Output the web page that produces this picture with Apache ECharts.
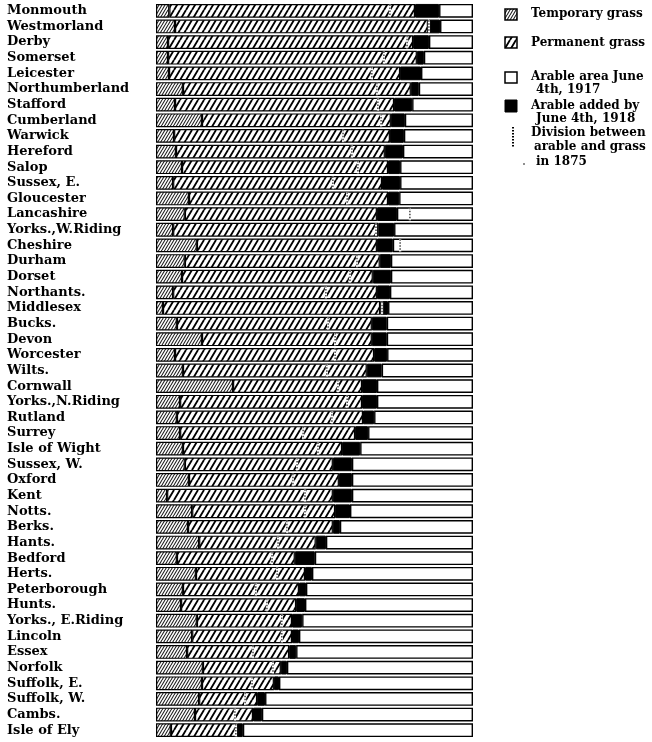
<!DOCTYPE html>
<html>
<head>
<meta charset="utf-8">
<script src="https://cdn.jsdelivr.net/npm/echarts@6/dist/echarts.min.js"></script>
<style>
html,body{margin:0;padding:0;background:#fff;}
#chart{width:652px;height:742px;}
</style>
</head>
<body>
<div id="chart"></div>
<script>
const counties = ["Monmouth","Westmorland","Derby","Somerset","Leicester","Northumberland","Stafford","Cumberland","Warwick","Hereford","Salop","Sussex, E.","Gloucester","Lancashire","Yorks.,W.Riding","Cheshire","Durham","Dorset","Northants.","Middlesex","Bucks.","Devon","Worcester","Wilts.","Cornwall","Yorks.,N.Riding","Rutland","Surrey","Isle of Wight","Sussex, W.","Oxford","Kent","Notts.","Berks.","Hants.","Bedford","Herts.","Peterborough","Hunts.","Yorks., E.Riding","Lincoln","Essex","Norfolk","Suffolk, E.","Suffolk, W.","Cambs.","Isle of Ely"];

// percentages of total area
const temporaryGrass = [4.2,6.0,3.8,3.8,4.1,8.5,6.0,14.5,5.7,6.3,8.2,5.4,10.4,9.1,5.4,12.9,9.1,8.2,5.4,2.2,6.6,14.5,6.0,8.5,24.3,7.6,6.6,7.6,8.5,9.1,10.4,3.5,11.4,10.1,13.6,6.6,12.6,8.5,7.9,12.9,11.4,9.8,14.8,14.5,13.6,12.3,4.7];
const permanentGrass = [77.5,79.8,77.3,78.5,72.9,71.9,69.1,59.6,68.1,65.9,65.0,65.9,62.8,60.6,64.7,56.8,61.5,60.2,64.3,68.5,61.5,53.6,62.8,58.0,40.7,57.4,58.7,55.2,50.2,46.7,47.3,52.3,45.1,45.7,36.8,37.2,34.4,36.6,36.3,30.0,31.5,32.2,24.6,22.7,18.3,18.3,20.8];
const arableAdded1918 = [7.6,3.8,5.0,2.2,6.6,2.5,5.7,4.4,4.4,5.7,3.8,5.7,3.5,6.3,5.0,5.0,3.5,5.7,4.1,2.5,4.7,4.7,4.1,4.7,4.7,4.7,3.5,4.1,5.7,6.0,4.1,6.0,4.7,2.2,3.2,6.3,2.2,2.2,2.8,3.2,2.2,2.2,1.9,1.6,2.5,2.8,1.9];
const arable1917 = [10.7,10.4,13.9,15.5,16.4,17.1,19.2,21.5,21.8,22.1,23.0,23.0,23.3,24.0,24.9,25.3,25.9,25.9,26.2,26.8,27.2,27.2,27.1,28.8,30.3,30.3,31.2,33.1,35.6,38.2,38.2,38.2,38.8,42.0,46.4,49.9,50.8,52.7,53.0,53.9,54.9,55.8,58.7,61.2,65.6,66.6,72.6];
const division1875 = [73.8,86.1,79.2,71.9,68.1,69.7,70.0,71.0,59.0,61.8,63.7,55.8,60.3,80.1,69.4,77.0,63.4,61.2,53.6,71.3,54.3,56.5,56.5,53.9,57.4,60.3,55.5,46.4,51.1,44.5,43.2,47.0,47.0,41.3,38.5,36.6,38.2,31.5,35.0,39.7,39.7,30.6,36.9,30.3,28.1,24.9,25.2];

const legendLabels = [["Temporary grass"],["Permanent grass"],["Arable area June","4th, 1917"],["Arable added by","June 4th, 1918"],["Division between","arable and grass","in 1875"]];

function hatch(w, h, lw, color, bg) {
  const c = document.createElement('canvas');
  c.width = w; c.height = h;
  const ctx = c.getContext('2d');
  ctx.fillStyle = bg; ctx.fillRect(0, 0, w, h);
  ctx.strokeStyle = color; ctx.lineWidth = lw;
  ctx.beginPath();
  for (const dx of [-w, 0, w]) { ctx.moveTo(dx, h); ctx.lineTo(dx + w, 0); }
  ctx.stroke();
  return c;
}
const permPattern = { image: hatch(6, 10, 1.9, '#000', '#fff'), repeat: 'repeat' };
const tempPattern = { image: hatch(3, 5, 1.1, '#222', '#fff'), repeat: 'repeat' };

const FONT = '"DejaVu Serif", "Liberation Serif", serif';
const chart = echarts.init(document.getElementById('chart'), null, { renderer: 'canvas' });

const barBase = { type: 'bar', stack: 'all', barCategoryGap: '12%', emphasis: { disabled: true } };

// legend graphics
const lx = 505, tx = 531;
const graphics = [
  { type: 'rect', shape: { x: lx, y: 9, width: 12, height: 11 }, style: { fill: tempPattern, stroke: '#000', lineWidth: 1.5 } },
  { type: 'rect', shape: { x: lx, y: 37, width: 12, height: 11 }, style: { fill: permPattern, stroke: '#000', lineWidth: 1.5 } },
  { type: 'rect', shape: { x: lx, y: 72, width: 12, height: 11 }, style: { fill: '#fff', stroke: '#000', lineWidth: 1.5 } },
  { type: 'rect', shape: { x: lx, y: 100, width: 12, height: 12 }, style: { fill: '#000', stroke: '#000', lineWidth: 1 } },
  { type: 'line', shape: { x1: 513, y1: 127, x2: 513, y2: 147 }, style: { stroke: '#000', lineWidth: 2, lineDash: [1.5, 1.5] } },
  { type: 'circle', shape: { cx: 524, cy: 164, r: 0.8 }, style: { fill: '#000' } }
];
const textYs = [[14],[42.7],[76.7,90],[106,119],[133,146.7,161.7]];
legendLabels.forEach((lines, i) => {
  lines.forEach((t, j) => {
    graphics.push({ type: 'text', x: j === 0 ? tx : (i === 4 && j === 1 ? tx + 3 : tx + 5), y: textYs[i][j],
      style: { text: t, font: 'bold 12px ' + FONT, fill: '#000', verticalAlign: 'middle' } });
  });
});

chart.setOption({
  animation: false,
  backgroundColor: '#fff',
  grid: { left: 156, right: 179, top: 3, bottom: 4 },
  xAxis: { type: 'value', min: 0, max: 100, show: false },
  yAxis: {
    type: 'category', data: counties, inverse: true,
    axisLine: { show: false }, axisTick: { show: false },
    axisLabel: { interval: 0, align: 'left', margin: 149, color: '#000', fontFamily: FONT, fontWeight: 'bold', fontSize: 13 }
  },
  series: [
    Object.assign({}, barBase, { name: 'Temporary grass', data: temporaryGrass, itemStyle: { color: tempPattern, borderColor: '#000', borderWidth: 1.2 } }),
    Object.assign({}, barBase, { name: 'Permanent grass', data: permanentGrass, itemStyle: { color: permPattern, borderColor: '#000', borderWidth: 1.2 } }),
    Object.assign({}, barBase, { name: 'Arable added by June 4th, 1918', data: arableAdded1918, itemStyle: { color: '#000', borderColor: '#000', borderWidth: 1 } }),
    Object.assign({}, barBase, { name: 'Arable area June 4th, 1917', data: arable1917, itemStyle: { color: '#fff', borderColor: '#000', borderWidth: 1.4 } }),
    {
      type: 'custom', name: 'Division 1875', z: 10,
      data: division1875.map((v, i) => [v, i]),
      encode: { x: 0, y: 1 },
      renderItem: function (params, api) {
        const p = api.coord([api.value(0), api.value(1)]);
        const h = api.size([0, 1])[1] * 0.8;
        return { type: 'group', children: [
          { type: 'line', shape: { x1: p[0], y1: p[1] - h / 2, x2: p[0], y2: p[1] + h / 2 }, style: { stroke: '#fff', lineWidth: 2.2 } },
          { type: 'line', shape: { x1: p[0], y1: p[1] - h / 2, x2: p[0], y2: p[1] + h / 2 }, style: { stroke: '#000', lineWidth: 1.1, lineDash: [1.5, 1.5] } }
        ] };
      }
    }
  ],
  graphic: graphics
});
</script>
</body>
</html>
